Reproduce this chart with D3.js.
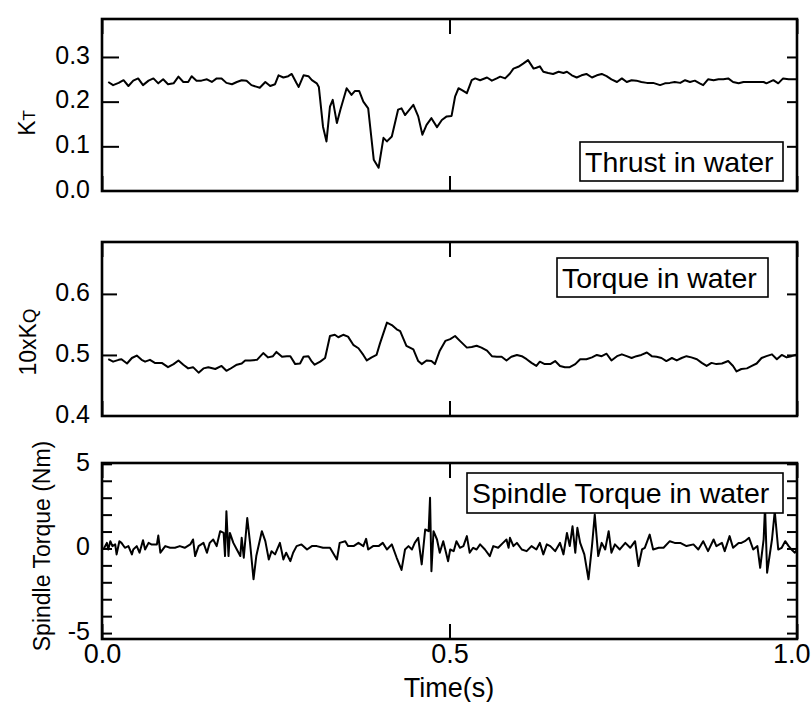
<!DOCTYPE html>
<html><head><meta charset="utf-8">
<script src="https://cdn.jsdelivr.net/npm/d3@7"></script>
<style>
body{margin:0;background:#fff}
text{font-family:"Liberation Sans",Arial,Helvetica,sans-serif;fill:#000}
</style>
</head><body>
<svg id="chart" width="811" height="702"></svg>
<script>
// ---- data ----
const thrustTime = [0.009,0.016,0.024,0.031,0.038,0.045,0.052,0.059,0.067,0.074,0.081,0.088,0.095,0.103,0.110,0.117,0.124,0.129,0.136,0.143,0.151,0.158,0.165,0.172,0.179,0.187,0.194,0.201,0.208,0.215,0.223,0.227,0.235,0.242,0.249,0.254,0.261,0.268,0.273,0.280,0.283,0.290,0.297,0.302,0.309,0.312,0.318,0.323,0.328,0.332,0.338,0.343,0.352,0.359,0.364,0.370,0.376,0.383,0.391,0.398,0.405,0.410,0.417,0.426,0.431,
 0.436,0.448,0.455,0.461,0.467,0.474,0.482,0.489,0.496,0.503,0.508,0.513,0.518,0.525,0.532,0.537,0.544,0.554,0.561,0.568,0.573,0.580,0.587,0.592,0.599,0.606,0.613,0.621,0.625,0.630,0.635,0.642,0.649,0.657,0.664,0.669,0.676,0.683,0.690,0.697,0.705,0.712,0.719,0.726,0.733,0.741,0.748,0.755,0.762,0.769,0.776,0.784,0.793,0.803,0.810,0.817,0.824,0.832,0.839,0.846,0.853,0.860,0.865,0.872,0.880,0.887,0.894,0.901,0.908,0.916,0.923,0.937,0.952,0.956,0.966,0.973,0.980,0.988,1.0];
const thrustKT = [0.244,0.237,0.242,0.248,0.235,0.247,0.252,0.237,0.247,0.252,0.241,0.250,0.239,0.241,0.256,0.244,0.244,0.257,0.247,0.247,0.250,0.244,0.252,0.252,0.242,0.239,0.244,0.248,0.247,0.237,0.233,0.231,0.244,0.235,0.239,0.259,0.254,0.257,0.262,0.241,0.233,0.259,0.257,0.248,0.241,0.233,0.144,0.111,0.189,0.204,0.152,0.182,0.230,0.215,0.224,0.224,0.200,0.185,0.070,0.052,0.119,0.111,0.122,0.182,0.185,
 0.170,0.193,0.167,0.126,0.148,0.163,0.143,0.159,0.167,0.168,0.211,0.230,0.226,0.219,0.248,0.252,0.248,0.254,0.247,0.252,0.256,0.252,0.263,0.274,0.278,0.285,0.293,0.274,0.276,0.279,0.267,0.264,0.262,0.267,0.264,0.267,0.259,0.254,0.259,0.262,0.254,0.259,0.262,0.257,0.250,0.244,0.252,0.244,0.248,0.247,0.244,0.242,0.242,0.237,0.241,0.242,0.244,0.242,0.248,0.244,0.247,0.241,0.237,0.250,0.248,0.250,0.250,0.252,0.244,0.241,0.244,0.244,0.244,0.241,0.248,0.241,0.252,0.250,0.250];

const torqueTime = [0.009,0.016,0.024,0.028,0.036,0.043,0.050,0.057,0.062,0.069,0.076,0.086,0.095,0.103,0.110,0.117,0.124,0.131,0.139,0.146,0.153,0.163,0.172,0.179,0.184,0.194,0.201,0.206,0.213,0.223,0.232,0.239,0.246,0.251,0.259,0.266,0.271,0.278,0.285,0.290,0.297,0.302,0.306,0.314,0.321,0.328,0.335,0.340,0.347,0.354,0.362,0.369,0.376,0.381,0.388,0.395,0.400,0.410,0.417,0.424,
 0.429,0.438,0.448,0.455,0.460,0.467,0.474,0.479,0.486,0.494,0.501,0.508,0.515,0.525,0.532,0.539,0.546,0.554,0.561,0.568,0.575,0.582,0.589,0.597,0.604,0.611,0.618,0.625,0.630,0.637,0.645,0.652,0.659,0.666,0.673,0.681,0.688,0.697,0.705,0.712,0.719,0.726,0.733,0.741,0.748,0.755,0.762,0.769,0.776,0.784,0.791,0.798,0.805,0.812,0.820,0.827,0.834,0.841,0.848,0.856,0.863,0.870,0.877,0.884,0.892,0.901,0.908,0.913,0.920,0.928,0.935,0.942,0.949,0.956,0.964,0.971,0.978,0.985,0.992,1.0];
const torque10KQ = [0.493,0.489,0.492,0.493,0.486,0.495,0.499,0.492,0.489,0.492,0.487,0.487,0.480,0.485,0.491,0.484,0.478,0.480,0.471,0.478,0.480,0.477,0.482,0.474,0.477,0.484,0.486,0.491,0.491,0.492,0.503,0.496,0.498,0.505,0.497,0.498,0.498,0.485,0.486,0.497,0.498,0.489,0.484,0.489,0.495,0.531,0.533,0.529,0.533,0.530,0.516,0.511,0.500,0.491,0.496,0.500,0.519,0.553,0.549,0.542,
 0.539,0.515,0.509,0.490,0.485,0.491,0.490,0.485,0.507,0.523,0.526,0.531,0.523,0.512,0.513,0.515,0.512,0.507,0.498,0.497,0.497,0.491,0.497,0.500,0.498,0.493,0.487,0.482,0.489,0.485,0.485,0.490,0.482,0.480,0.480,0.485,0.493,0.493,0.496,0.500,0.498,0.502,0.491,0.498,0.501,0.498,0.495,0.498,0.500,0.504,0.498,0.497,0.495,0.490,0.495,0.491,0.495,0.498,0.496,0.493,0.487,0.482,0.487,0.485,0.486,0.490,0.482,0.473,0.477,0.478,0.482,0.486,0.495,0.498,0.501,0.493,0.500,0.496,0.498,0.501];

const spindleTime = [0.002,0.007,0.009,0.012,0.015,0.019,0.021,0.025,0.028,0.033,0.038,0.043,0.045,0.050,0.054,0.059,0.062,0.067,0.071,0.079,0.081,0.084,0.091,0.098,0.105,0.112,0.119,0.127,0.131,0.134,0.139,0.146,0.151,0.155,0.160,0.165,0.170,0.175,0.177,0.179,0.182,0.184,0.189,0.194,0.199,0.201,0.204,0.209,0.213,0.218,0.222,0.230,0.235,0.240,0.244,0.249,0.256,0.261,0.265,0.271,0.275,0.280,0.287,0.295,0.302,0.309,0.318,0.328,0.338,0.342,0.350,0.354,0.362,0.369,0.376,0.380,0.383,0.390,0.398,0.404,0.410,0.417,0.424,0.431,0.436,0.441,0.446,0.450,0.455,0.460,0.465,0.470,0.472,0.474,0.477,0.482,0.486,0.491,0.498,0.501,
 0.506,0.510,0.515,0.520,0.525,0.529,0.534,0.539,0.544,0.551,0.558,0.563,0.570,0.577,0.582,0.585,0.587,0.592,0.597,0.604,0.611,0.618,0.625,0.630,0.635,0.640,0.645,0.652,0.659,0.664,0.669,0.673,0.677,0.681,0.684,0.688,0.694,0.700,0.705,0.709,0.714,0.719,0.724,0.729,0.733,0.738,0.745,0.753,0.760,0.767,0.772,0.777,0.781,0.788,0.793,0.801,0.808,0.817,0.824,0.832,0.841,0.851,0.858,0.865,0.872,0.880,0.884,0.892,0.896,0.903,0.908,0.916,0.920,0.925,0.931,0.937,0.943,0.947,0.952,0.954,0.957,0.964,0.968,0.973,0.978,0.983,0.988,0.992,0.997,1.0];
const spindleNm = [-0.06,0.33,-0.06,0.43,0.14,0.24,-0.35,0.43,0.33,0.04,0.14,-0.35,-0.06,0.14,-0.25,0.49,-0.06,0.33,0.24,0.24,0.76,-0.25,0.14,0.04,0.04,0.14,0.04,0.24,0.53,-0.45,0.14,0.33,-0.25,0.33,0.53,0.14,1.02,0.92,-0.45,2.2,-0.45,0.92,0.33,-0.06,-0.45,0.63,-0.55,1.8,0.33,-1.82,-0.45,1.02,0.43,-0.65,-0.16,-0.35,0.33,-0.65,-0.25,-0.75,-0.25,0.14,0.24,-0.06,0.14,0.14,0.04,0.04,-0.65,0.33,0.43,0.14,0.14,0.33,0.14,0.57,-0.06,0.14,0.14,0.33,-0.06,0.24,-0.55,-1.27,-0.06,0.14,-0.06,0.33,0.63,-0.94,1.12,1.02,3.0,-1.35,1.02,0.53,-0.25,0.43,-0.75,-0.06,
 -0.16,0.43,0.04,0.14,0.73,-0.25,0.04,-0.06,0.24,-0.06,-0.45,0.14,0.04,0.33,0.53,0.04,0.63,0.14,0.33,-0.06,-0.16,0.14,-0.06,0.33,-0.35,0.24,0.14,-0.16,0.33,-0.35,0.92,0.14,1.31,-0.25,1.22,0.33,-0.35,-1.82,0.14,2.0,-0.45,0.33,-0.06,1.02,-0.25,0.24,-0.06,0.33,0.04,0.43,-1.04,-0.06,0.04,0.82,-0.06,0.04,0.04,0.43,0.33,0.33,0.14,0.24,-0.06,0.43,-0.16,0.53,0.14,0.33,-0.16,0.73,0.04,0.33,0.33,0.43,0.63,-0.06,0.14,-1.14,0.53,2.49,-1.43,0.53,2.2,-0.06,0.04,0.43,0.14,-0.06,-0.25,-0.06];

const timeTicks = [0.0, 0.5, 1.0];
const timeTickLabels = ["0.0", "0.5", "1.0"];
const thrustTicks = [0.0, 0.1, 0.2, 0.3];
const thrustTickLabels = ["0.0", "0.1", "0.2", "0.3"];
const torqueTicks = [0.4, 0.5, 0.6];
const torqueTickLabels = ["0.4", "0.5", "0.6"];
const spindleTicks = [-5, 0, 5];
const spindleTickLabels = ["-5", "0", "5"];
const spindleMinorTicks = [-5,-4,-3,-2,-1,0,1,2,3,4,5];
const legendLabels = ["Thrust in water", "Torque in water", "Spindle Torque in water"];

// ---- layout ----
const svg = d3.select("#chart");
const x = d3.scaleLinear().domain([0, 1]).range([102, 797]);
const FONT = "Liberation Sans, Arial, sans-serif";

const panels = [
  {t: thrustTime, v: thrustKT, domain: [0, 0.385], range: [191, 19], ticks: thrustTicks, labels: thrustTickLabels,
   leftTicks: [0.1,0.2,0.3], leftLen: 17, rightTicks: [0.1,0.2,0.3], rightLen: 10,
   legend: {text: legendLabels[0], x: 580, y: 142, w: 203, h: 39}},
  {t: torqueTime, v: torque10KQ, domain: [0.4, 0.685], range: [416, 242], ticks: torqueTicks, labels: torqueTickLabels,
   leftTicks: [0.5,0.6], leftLen: 15, rightTicks: [0.5,0.6], rightLen: 10,
   legend: {text: legendLabels[1], x: 557, y: 258, w: 211, h: 39}},
  {t: spindleTime, v: spindleNm, domain: [-5.35, 5.05], range: [639, 463], ticks: spindleTicks, labels: spindleTickLabels,
   leftTicks: spindleMinorTicks, leftLen: 10, rightTicks: spindleMinorTicks, rightLen: 10,
   legend: {text: legendLabels[2], x: 467, y: 473, w: 316, h: 40}}
];

panels.forEach((p, i) => {
  const y = d3.scaleLinear().domain(p.domain).range(p.range);
  const g = svg.append("g");

  // data line
  const pts = p.t.map((t, k) => [t, p.v[k]]);
  g.append("path")
    .datum(pts)
    .attr("fill", "none")
    .attr("stroke", "#000")
    .attr("stroke-width", 2)
    .attr("stroke-linejoin", "round")
    .attr("d", d3.line().x(d => x(d[0])).y(d => y(d[1])));

  // inward tick marks (left / right / top / bottom)
  const left = g.append("g").attr("transform", `translate(${x(0)},0)`)
    .call(d3.axisLeft(y).tickValues(p.leftTicks).tickSizeInner(-p.leftLen).tickSizeOuter(0).tickFormat(""));
  const right = g.append("g").attr("transform", `translate(${x(1)},0)`)
    .call(d3.axisRight(y).tickValues(p.rightTicks).tickSizeInner(-p.rightLen).tickSizeOuter(0).tickFormat(""));
  const top = g.append("g").attr("transform", `translate(0,${p.range[1]})`)
    .call(d3.axisTop(x).tickValues(timeTicks).tickSizeInner(-15).tickSizeOuter(0).tickFormat(""));
  const bot = g.append("g").attr("transform", `translate(0,${p.range[0]})`)
    .call(d3.axisBottom(x).tickValues(timeTicks).tickSizeInner(-15).tickSizeOuter(0)
      .tickFormat(i === 2 ? ((d, k) => timeTickLabels[k]) : ""));
  [left, right, top, bot].forEach(a => {
    a.select(".domain").remove();
    a.selectAll("line").attr("stroke", "#000").attr("stroke-width", 2);
  });
  bot.selectAll("text").attr("font-size", 27).attr("fill", "#000")
    .attr("font-family", FONT).attr("y", 5)
    .attr("text-anchor", (d, k) => k === timeTicks.length - 1 ? "end" : "middle")
    .attr("dx", (d, k) => k === timeTicks.length - 1 ? 13 : 0);

  // tick labels on the left
  const lab = g.append("g").attr("transform", `translate(${x(0)},0)`)
    .call(d3.axisLeft(y).tickValues(p.ticks).tickSize(0).tickPadding(12).tickFormat((d, k) => p.labels[k]));
  lab.select(".domain").remove();
  lab.selectAll("text").attr("font-size", 25).attr("fill", "#000")
    .attr("font-family", FONT).attr("dy", "0.25em");

  // frame
  g.append("rect")
    .attr("x", x(0)).attr("y", p.range[1])
    .attr("width", x(1) - x(0)).attr("height", p.range[0] - p.range[1])
    .attr("fill", "none").attr("stroke", "#000").attr("stroke-width", 2.6);

  // legend box
  const L = p.legend;
  g.append("rect").attr("x", L.x).attr("y", L.y).attr("width", L.w).attr("height", L.h)
    .attr("fill", "#fff").attr("stroke", "#000").attr("stroke-width", 1.6);
  g.append("text").attr("x", L.x + 5).attr("y", L.y + L.h / 2 + 10)
    .attr("font-size", 28.5).text(L.text);
});

// y-axis titles
const kt = svg.append("text").attr("transform", "translate(35,123) rotate(-90)")
  .attr("text-anchor", "middle").attr("font-size", 23);
kt.append("tspan").text("K");
kt.append("tspan").attr("font-size", 17).text("T");

const kq = svg.append("text").attr("transform", "translate(36,342) rotate(-90)")
  .attr("text-anchor", "middle").attr("font-size", 23);
kq.append("tspan").text("10xK");
kq.append("tspan").attr("font-size", 19).text("Q");

svg.append("text").attr("transform", "translate(50,546) rotate(-90)")
  .attr("text-anchor", "middle").attr("font-size", 23).text("Spindle Torque (Nm)");

svg.append("text").attr("x", 449).attr("y", 697)
  .attr("text-anchor", "middle").attr("font-size", 27).text("Time(s)");
</script>
</body></html>
